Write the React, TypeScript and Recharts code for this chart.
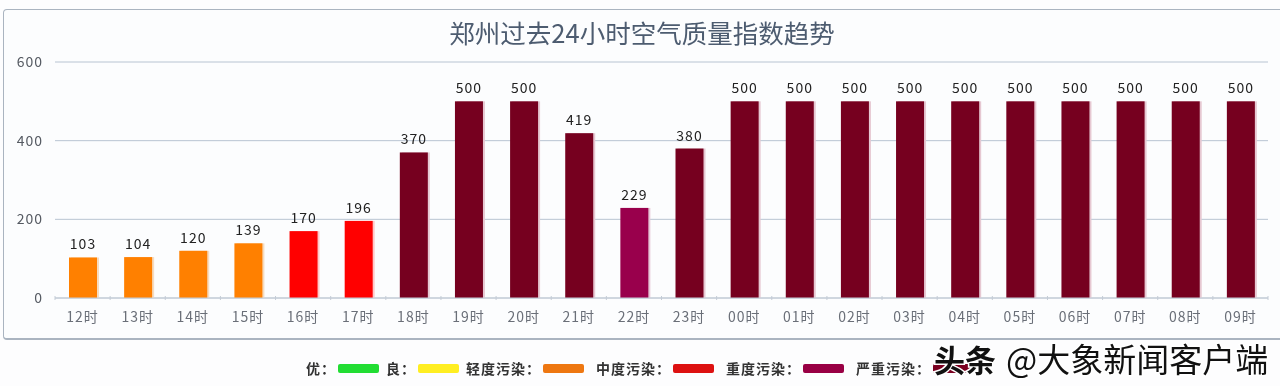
import { BarChart, Bar, XAxis, YAxis, CartesianGrid, Cell, LabelList } from "recharts";

const hours = ["12时","13时","14时","15时","16时","17时","18时","19时","20时","21时","22时","23时","00时","01时","02时","03时","04时","05时","06时","07时","08时","09时"];
const aqi = [103,104,120,139,170,196,370,500,500,419,229,380,500,500,500,500,500,500,500,500,500,500];
const yTicks = [0,200,400,600];
const legendLabels = ["优：","良：","轻度污染：","中度污染：","重度污染：","严重污染："];
const legendColors = ["#22dd33","#ffee22","#ee7711","#dd1111","#990044","#7a0020"];

const FONT = '"Noto Sans CJK SC", "Noto Sans", sans-serif';

function barColor(v: number) {
  if (v > 300) return "#76001f";
  if (v > 200) return "#99004c";
  if (v > 150) return "#ff0000";
  return "#ff8000";
}

function barShade(v: number) {
  if (v > 300) return "#e6c8d2";
  if (v > 200) return "#e6c8d8";
  if (v > 150) return "#ffc8c8";
  return "#f6dcc0";
}

const data = hours.map((hour, i) => ({ hour, aqi: aqi[i] }));

function ShadedBar(props: any) {
  const { x, y, width, height, value } = props;
  return (
    <g>
      <rect x={x + 2} y={y} width={width} height={height} fill={barShade(value)} />
      <rect x={x} y={y} width={width} height={height} fill={props.fill} />
    </g>
  );
}

function HourTick(props: any) {
  const { x, y, payload, index } = props;
  const half = payload.offset ?? 27.57;
  return (
    <g>
      <line x1={x + half} x2={x + half} y1={y - 10} y2={y - 6} stroke="#c4ccd6" />
      {index === 0 && <line x1={x - half} x2={x - half} y1={y - 10} y2={y - 6} stroke="#c4ccd6" />}
      <text x={x} y={y + 16} textAnchor="middle" fontSize={14} letterSpacing={1} fill="#6a6f78" fontFamily={FONT}>
        {payload.value}
      </text>
    </g>
  );
}

export default function App() {
  return (
    <div style={{ position: "absolute", left: 0, top: 0, width: 1280, height: 386, background: "#fdfdfe", overflow: "hidden", fontFamily: FONT, filter: "blur(0.4px)" }}>
      <div style={{ position: "absolute", left: 3, top: 9, width: 1290, height: 331, boxSizing: "border-box", border: "1px solid #aab4c0", borderBottomWidth: 2, borderRadius: 4, background: "#fcfdfe" }} />
      <div style={{ position: "absolute", left: 0, width: 1284, top: 14, textAlign: "center", fontSize: 25.5, lineHeight: "36px", color: "#4d5c70" }}>
        郑州过去24小时空气质量指数趋势
      </div>
      <div style={{ position: "absolute", left: 0, top: 0 }}>
        <BarChart width={1280} height={386} data={data} margin={{ top: 62, right: 12, left: 0, bottom: 48 }} barSize={28}>
          <CartesianGrid vertical={false} stroke="#b8c4d2" />
          <XAxis dataKey="hour" interval={0} axisLine={{ stroke: "#c4ccd6" }} tickLine={false} tick={<HourTick />} height={40} />
          <YAxis
            width={55}
            domain={[0, 600]}
            ticks={yTicks}
            axisLine={false}
            tickLine={false}
            tickMargin={6}
            tick={{ fill: "#555a62", fontSize: 14, fontFamily: FONT, letterSpacing: 1 }}
          />
          <Bar dataKey="aqi" isAnimationActive={false} shape={<ShadedBar />}>
            {data.map((d) => (
              <Cell key={d.hour} fill={barColor(d.aqi)} />
            ))}
            <LabelList dataKey="aqi" position="top" offset={8} fill="#222" fontSize={14} letterSpacing={1} fontFamily={FONT} />
          </Bar>
        </BarChart>
      </div>
      <div style={{ position: "absolute", left: 306, top: 358, display: "flex", alignItems: "center", height: 20, fontSize: 14, letterSpacing: 1, fontWeight: 700, color: "#333" }}>
        {legendLabels.map((label, i) => (
          <span key={label} style={{ display: "flex", alignItems: "center", marginRight: i >= 2 ? 12 : 7 }}>
            {label}
            <span style={{ display: "inline-block", width: 41, height: 9, borderRadius: 2, marginLeft: 2, background: legendColors[i] }} />
          </span>
        ))}
      </div>
      <svg width={1280} height={386} style={{ position: "absolute", left: 0, top: 0 }}>
        <text x={934} y={372} fontSize={31} fontWeight={700} fill="#111" stroke="#fff" strokeWidth={3} paintOrder="stroke" fontFamily={FONT}>头条</text>
        <text x={1006} y={372} fontSize={33} fill="#111" stroke="#fff" strokeWidth={3} paintOrder="stroke" fontFamily={FONT}>@大象新闻客户端</text>
      </svg>
    </div>
  );
}
